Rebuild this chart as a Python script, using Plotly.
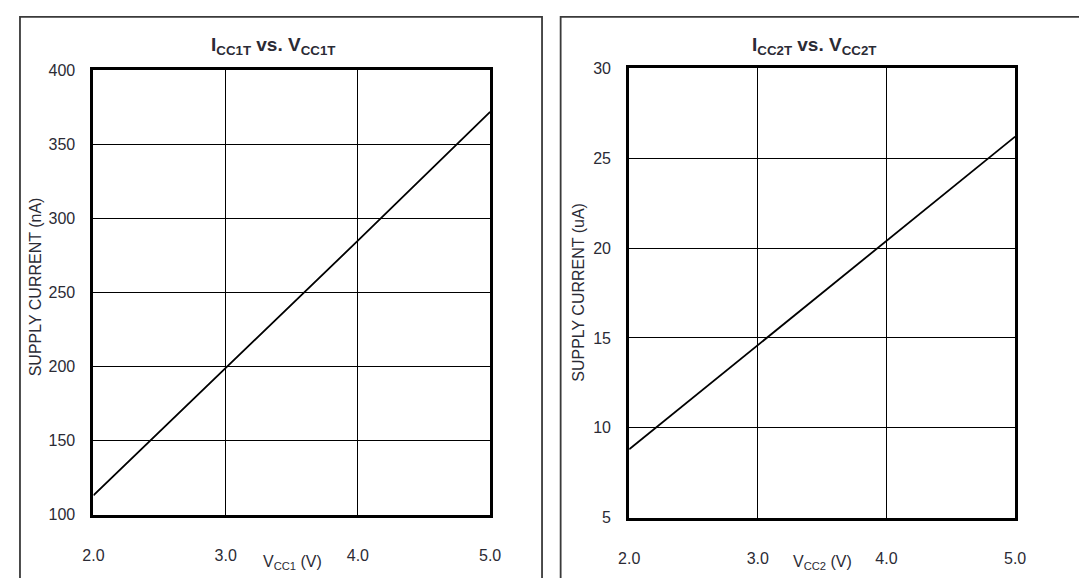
import plotly.graph_objects as go

# Page is 1087x586; the HTML body keeps an 8px margin, so the figure is 16px smaller
PAGE_W, PAGE_H = 1087, 586
OFF = 8
W, H = PAGE_W - 2 * OFF, PAGE_H - 2 * OFF

# Data
vcc1 = [2.0, 3.0, 4.0, 5.0]
icc1_nA = [113, 199, 285, 372]
vcc2 = [2.0, 3.0, 4.0, 5.0]
icc2_uA = [8.8, 14.6, 20.4, 26.2]

x_ticks = [2.0, 3.0, 4.0, 5.0]
x_ticklabels = ["2.0", "3.0", "4.0", "5.0"]
y1_ticks = [100, 150, 200, 250, 300, 350, 400]
y2_ticks = [5, 10, 15, 20, 25, 30]

FONT = "Liberation Sans Narrow, Arial Narrow, Liberation Sans, Arial, sans-serif"
TXT = "#2b2b35"

def px(x):
    return (x - OFF) / W

def py(y):
    return 1 - (y - OFF) / H

fig = go.Figure()
fig.add_trace(go.Scatter(x=vcc1, y=icc1_nA, mode="lines",
                         line=dict(color="black", width=1.8),
                         xaxis="x", yaxis="y", showlegend=False))
fig.add_trace(go.Scatter(x=vcc2, y=icc2_uA, mode="lines",
                         line=dict(color="black", width=1.8),
                         xaxis="x2", yaxis="y2", showlegend=False))

axis_common = dict(showline=True, linecolor="black", linewidth=3, mirror=True,
                   showgrid=True, gridcolor="black", gridwidth=1.4,
                   zeroline=False, ticks="", fixedrange=True,
                   tickfont=dict(family=FONT, size=16, color=TXT))

fig.update_layout(
    width=W, height=H,
    margin=dict(l=0, r=0, t=0, b=0),
    paper_bgcolor="white", plot_bgcolor="white",
    xaxis=dict(domain=[px(84), px(489)], range=[2, 5], tickvals=x_ticks,
               ticktext=x_ticklabels, anchor="y", ticklabelstandoff=24, **axis_common),
    yaxis=dict(domain=[py(522), py(64)], range=[100, 400], tickvals=y1_ticks,
               anchor="x", ticklabelstandoff=12, **axis_common),
    xaxis2=dict(domain=[px(631), px(1025)], range=[2, 5], tickvals=x_ticks,
                ticktext=x_ticklabels, anchor="y2", ticklabelstandoff=24, **axis_common),
    yaxis2=dict(domain=[py(525), py(62)], range=[5, 30], tickvals=y2_ticks,
                anchor="x2", ticklabelstandoff=12, **axis_common),
)

# Outer panel frames
fig.add_shape(type="rect", xref="paper", yref="paper",
              x0=px(9), x1=px(542), y0=py(640), y1=py(9),
              line=dict(color="#3a3a3a", width=1.8), fillcolor="rgba(0,0,0,0)")
fig.add_shape(type="rect", xref="paper", yref="paper",
              x0=px(561), x1=px(1120), y0=py(640), y1=py(9),
              line=dict(color="#3a3a3a", width=1.8), fillcolor="rgba(0,0,0,0)")

# Titles
fig.add_annotation(xref="paper", yref="paper", x=px(267), y=py(39),
                   text="<b>I<sub>CC1T</sub> vs. V<sub>CC1T</sub></b>", showarrow=False,
                   font=dict(family=FONT, size=19, color=TXT), xanchor="center", yanchor="middle")
fig.add_annotation(xref="paper", yref="paper", x=px(820), y=py(39),
                   text="<b>I<sub>CC2T</sub> vs. V<sub>CC2T</sub></b>", showarrow=False,
                   font=dict(family=FONT, size=19, color=TXT), xanchor="center", yanchor="middle")

# Axis titles
fig.add_annotation(xref="paper", yref="paper", x=px(287), y=py(571),
                   text="V<sub>CC1</sub> (V)", showarrow=False,
                   font=dict(family=FONT, size=16, color=TXT), xanchor="center", yanchor="middle")
fig.add_annotation(xref="paper", yref="paper", x=px(828), y=py(571),
                   text="V<sub>CC2</sub> (V)", showarrow=False,
                   font=dict(family=FONT, size=16, color=TXT), xanchor="center", yanchor="middle")
fig.add_annotation(xref="paper", yref="paper", x=px(25), y=py(287),
                   text="SUPPLY CURRENT (nA)", showarrow=False, textangle=-90,
                   font=dict(family=FONT, size=16, color=TXT), xanchor="center", yanchor="middle")
fig.add_annotation(xref="paper", yref="paper", x=px(579), y=py(293),
                   text="SUPPLY CURRENT (uA)", showarrow=False, textangle=-90,
                   font=dict(family=FONT, size=16, color=TXT), xanchor="center", yanchor="middle")

fig.write_html("out.html")
